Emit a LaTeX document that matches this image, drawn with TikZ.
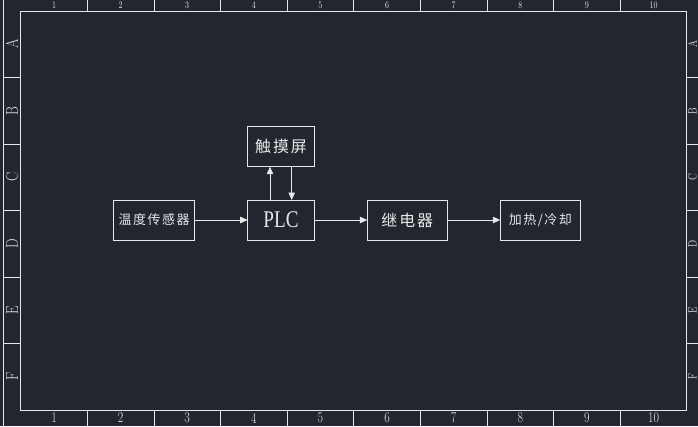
\documentclass[tikz,border=0pt]{standalone}
\usepackage{fontspec}
\setmainfont{Latin Modern Roman}
\newfontfamily\cjkfont[LetterSpace=12]{Noto Sans CJK SC}
\newfontfamily\plcfont[FakeStretch=0.8]{Liberation Serif}
\newfontfamily\gridfont[FakeStretch=0.8]{Latin Modern Roman}
\usetikzlibrary{arrows.meta,positioning}
\definecolor{cadbg}{RGB}{33,38,47}
\definecolor{cadline}{RGB}{232,232,232}
\tikzset{
	blockbox/.style={draw=cadline, text=cadline, minimum height=40bp, inner sep=0pt, outer sep=0pt},
	gridlabel/.style={text=cadline, font=\gridfont\fontsize{#1}{#1}\selectfont, inner sep=0pt}
}
\begin{document}
\begin{tikzpicture}[x=1bp, y=1bp, line width=0.8bp, >={Triangle[length=7.5bp,width=6.5bp]}, node distance=33.3bp and 53bp]
	\useasboundingbox[fill=cadbg] (0,0) rectangle (698,426);
	\clip (0,0) rectangle (698,426);
	\draw[cadline] (3.3,-10) -- (3.3,436);
	\draw[cadline] (20.7,16) rectangle (686.8,415);
	\foreach \i in {1,...,9}{
		\draw[cadline] (20.7+66.61*\i,415) -- ++(0,17);
		\draw[cadline] (20.7+66.61*\i,16) -- ++(0,-17);
	}
	\foreach \i in {1,...,10}{
		\node[gridlabel=10] (top\i) at (66.61*\i-12.6,420.6) {\i};
		\node[gridlabel=15] (bot\i) at (66.61*\i-12.6,8) {\i};
	}
	\foreach \j in {1,...,5}{
		\draw[cadline] (3.3,415-66.5*\j) -- (20.7,415-66.5*\j);
		\draw[cadline] (686.8,415-66.5*\j) -- (705,415-66.5*\j);
	}
	\foreach \l [count=\j] in {A,B,C,D,E,F}{
		\node[gridlabel=17, rotate=90] (left\l) at (12,448.25-66.5*\j) {\l};
		\node[gridlabel=12, rotate=90] (right\l) at (692.6,448.25-66.5*\j) {\l};
	}
	\node[blockbox, minimum width=66.6bp, font=\plcfont\fontsize{24}{24}\selectfont] (plc) at (281,206) {PLC};
	\node[blockbox, minimum width=81bp, left=of plc, font=\cjkfont\fontsize{13}{13}\selectfont] (sensor) {温度传感器};
	\node[blockbox, minimum width=66.6bp, above=of plc, font=\cjkfont\fontsize{16}{16}\selectfont] (touch) {触摸屏};
	\node[blockbox, minimum width=80bp, right=of plc, font=\cjkfont\fontsize{16}{16}\selectfont] (relay) {继电器};
	\node[blockbox, minimum width=80bp, right=of relay, font=\cjkfont\fontsize{13}{13}\selectfont] (heatcool) {加热/冷却};
	\draw[cadline, ->] (sensor) -- (plc);
	\draw[cadline, ->] (plc) -- (relay);
	\draw[cadline, ->] (relay) -- (heatcool);
	\draw[cadline, ->] ([xshift=-11bp]plc.north) -- ([xshift=-11bp]touch.south);
	\draw[cadline, ->] ([xshift=10.7bp]touch.south) -- ([xshift=10.7bp]plc.north);
\end{tikzpicture}
\end{document}
